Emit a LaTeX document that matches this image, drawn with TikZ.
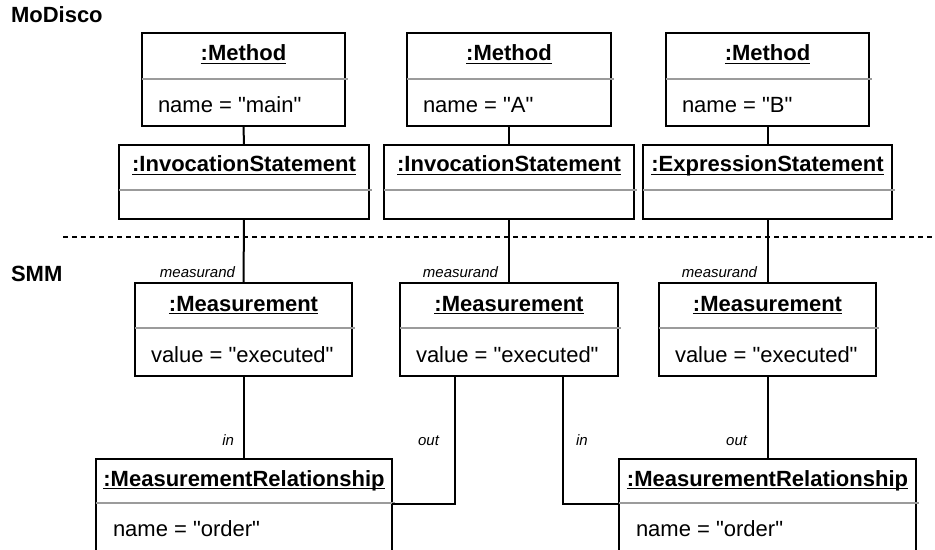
\documentclass[tikz,border=0pt]{standalone}
\usepackage{fontspec}
\setmainfont{Liberation Sans}[Ligatures=TeXOff]

\definecolor{sepgray}{RGB}{155,155,155}

\begin{document}
\begin{tikzpicture}[x=0.5pt,y=-0.5pt,line width=1pt,
  font=\fontsize{11}{13}\selectfont,
  objbox/.style={draw,inner sep=0pt,outer sep=0pt,anchor=north west},
  objtitle/.style={font=\fontsize{11}{13}\selectfont\bfseries,inner sep=0pt,anchor=base},
  objattr/.style={inner sep=0pt,anchor=base west},
  role/.style={font=\fontsize{7.5}{9}\selectfont\itshape,inner sep=0pt,anchor=base east},
  sepline/.style={draw=sepgray,line width=1pt}]
\useasboundingbox (0,0) rectangle (935,550);
\clip (0,0) rectangle (935,550);

% layers
\node[objtitle,anchor=base west] (modisco) at (10,23) {MoDisco};
\node[objtitle,anchor=base west] (smm) at (10,282) {SMM};
\draw[line width=0.75pt,dash pattern=on 2.5pt off 2pt] (63,237) -- (935,237);

% MoDisco: methods
\node[objbox,minimum width=101.5pt,minimum height=46.5pt] (meth1) at (142,33) {};
\node[objtitle] (meth1t) at (243.5,61) {\underline{\smash{:Method}}};
\draw[sepline] (142,79) -- (348,79);
\node[objattr] (meth1a) at (157,113) {name = "main"};

\node[objbox,minimum width=102pt,minimum height=46.5pt] (meth2) at (407,33) {};
\node[objtitle] (meth2t) at (509,61) {\underline{\smash{:Method}}};
\draw[sepline] (407,79) -- (614,79);
\node[objattr] (meth2a) at (422,113) {name = "A"};

\node[objbox,minimum width=101.5pt,minimum height=46.5pt] (meth3) at (666,33) {};
\node[objtitle] (meth3t) at (767.5,61) {\underline{\smash{:Method}}};
\draw[sepline] (666,79) -- (872,79);
\node[objattr] (meth3a) at (681,113) {name = "B"};

% MoDisco: statements
\node[objbox,minimum width=125pt,minimum height=37pt] (inv1) at (119,145) {};
\node[objtitle] (inv1t) at (244,172) {\underline{\smash{:InvocationStatement}}};
\draw[sepline] (119,190) -- (372,190);

\node[objbox,minimum width=125pt,minimum height=37pt] (inv2) at (384,145) {};
\node[objtitle] (inv2t) at (509,172) {\underline{\smash{:InvocationStatement}}};
\draw[sepline] (384,190) -- (637,190);

\node[objbox,minimum width=124.5pt,minimum height=37pt] (expr) at (643,145) {};
\node[objtitle] (exprt) at (767.5,172) {\underline{\smash{:ExpressionStatement}}};
\draw[sepline] (643,190) -- (895,190);

% SMM: measurements
\node[objbox,minimum width=108.5pt,minimum height=46.5pt] (meas1) at (135,283) {};
\node[objtitle] (meas1t) at (243.5,311) {\underline{\smash{:Measurement}}};
\draw[sepline] (135,328) -- (355,328);
\node[objattr] (meas1a) at (150,362) {value = "executed"};

\node[objbox,minimum width=109pt,minimum height=46.5pt] (meas2) at (400,283) {};
\node[objtitle] (meas2t) at (509,311) {\underline{\smash{:Measurement}}};
\draw[sepline] (400,328) -- (621,328);
\node[objattr] (meas2a) at (415,362) {value = "executed"};

\node[objbox,minimum width=108.5pt,minimum height=46.5pt] (meas3) at (659,283) {};
\node[objtitle] (meas3t) at (767.5,311) {\underline{\smash{:Measurement}}};
\draw[sepline] (659,328) -- (879,328);
\node[objattr] (meas3a) at (674,362) {value = "executed"};

% SMM: relationships (cut at the bottom)
\node[objbox,minimum width=148pt,minimum height=55pt] (mr1) at (96,459) {};
\node[objtitle] (mr1t) at (244,486) {\underline{\smash{:MeasurementRelationship}}};
\draw[sepline] (96,503) -- (395,503);
\node[objattr] (mr1a) at (112,536) {name = "order"};

\node[objbox,minimum width=148.5pt,minimum height=55pt] (mr2) at (619,459) {};
\node[objtitle] (mr2t) at (767.5,486) {\underline{\smash{:MeasurementRelationship}}};
\draw[sepline] (619,503) -- (919,503);
\node[objattr] (mr2a) at (635,536) {name = "order"};

% links
\draw (meth1.south) -- (inv1.north);
\draw (meth2.south) -- (inv2.north);
\draw (meth3.south) -- (expr.north);
\draw (inv1.south) -- (meas1.north);
\draw (inv2.south) -- (meas2.north);
\draw (expr.south) -- (meas3.north);
\draw (meas1.south) -- (meas1.south |- mr1.north);
\draw ([xshift=-27pt]meas2.south) |- ([yshift=-22.5pt]mr1.north east);
\draw ([xshift=27pt]meas2.south) |- ([yshift=-22.5pt]mr2.north west);
\draw (meas3.south) -- (mr2.north);

% roles
\node[role] (msr1) at (236,278) {measurand};
\node[role] (msr2) at (499,278) {measurand};
\node[role] (msr3) at (758,278) {measurand};
\node[role] (in1) at (235,445) {in};
\node[role] (out1) at (440,445) {out};
\node[role,anchor=base west] (in2) at (575,445) {in};
\node[role] (out2) at (748,445) {out};
\end{tikzpicture}
\end{document}
